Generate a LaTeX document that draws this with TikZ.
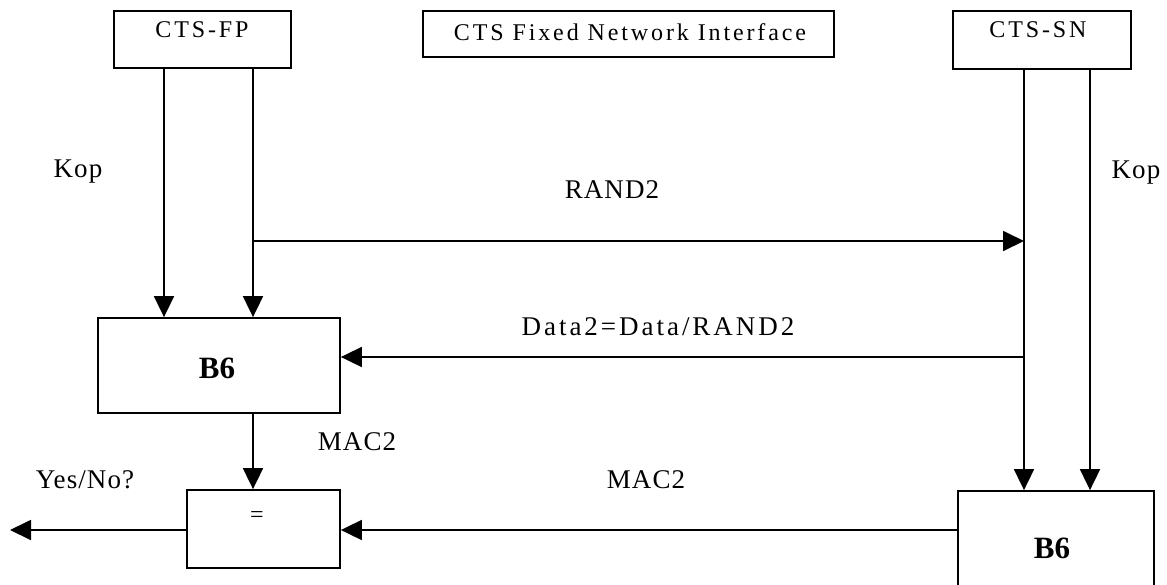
\documentclass[tikz,border=0pt]{standalone}
\usepackage{fontspec}
\setmainfont{Liberation Serif}
\newfontfamily\hdfont[LetterSpace=12]{Liberation Serif}
\newfontfamily\lbfont[LetterSpace=4]{Liberation Serif}
\newfontfamily\wdfont[LetterSpace=11]{Liberation Serif}
\usetikzlibrary{arrows.meta}
\begin{document}
\begin{tikzpicture}[x=1pt,y=-1pt,
  box/.style={draw=black,line width=1.8pt,rectangle,inner sep=0pt},
  hd/.style={inner sep=0pt,font=\hdfont\fontsize{24}{27}\selectfont},
  lb/.style={inner sep=0pt,font=\lbfont\fontsize{27}{30}\selectfont},
  wd/.style={inner sep=0pt,font=\wdfont\fontsize{27}{30}\selectfont},
  big/.style={inner sep=0pt,font=\fontsize{31}{34}\selectfont\bfseries},
  arr/.style={draw=black,line width=1.8pt,-{Triangle[length=21pt,width=20pt]}}]
\clip (0,0) rectangle (1167,584);
\fill[white] (0,0) rectangle (1167,584);
% boxes
\node[box,minimum width=177pt,minimum height=57pt] (fp) at (202.5,39.5) {};
\node[hd] (fpt) at (202,30) {CTS-FP};
\node[box,minimum width=411pt,minimum height=46pt] (fni) at (628.5,34) {};
\node[hd] (fnit) at (630,32) {CTS Fixed Network Interface};
\node[box,minimum width=178pt,minimum height=58pt] (sn) at (1042,40) {};
\node[hd] (snt) at (1038,30) {CTS-SN};
\node[box,minimum width=242pt,minimum height=95pt] (b6l) at (219,365.5) {};
\node[big] (b6lt) at (217,368) {B6};
\node[box,minimum width=153pt,minimum height=78pt] (eq) at (263.5,529) {};
\node[hd] (eqt) at (257,517) {=};
\node[box,minimum width=196pt,minimum height=120pt] (b6r) at (1056,551) {};
\node[big] (b6rt) at (1052,548) {B6};
% guide coordinates
\coordinate (cA) at (164,0);
\coordinate (cB) at (253,0);
\coordinate (cC) at (1024,0);
\coordinate (cD) at (1090,0);
\coordinate (rR) at (0,241);
\coordinate (rD) at (0,357);
\coordinate (rM) at (0,530);
\coordinate (out) at (10,530);
% connectors
\draw[arr] (fp.south -| cA) -- (b6l.north -| cA);
\draw[arr] (fp.south -| cB) -- (b6l.north -| cB);
\draw[arr] (cB |- rR) -- (cC |- rR);
\draw[arr] (cC |- rD) -- (b6l.east |- rD);
\draw[arr] (sn.south -| cC) -- (b6r.north -| cC);
\draw[arr] (sn.south -| cD) -- (b6r.north -| cD);
\draw[arr] (b6l.south -| cB) -- (eq.north -| cB);
\draw[arr] (b6r.west |- rM) -- (eq.east |- rM);
\draw[arr] (eq.west |- rM) -- (out);
% labels
\node[lb] (kop1) at (78,172) {Kop};
\node[lb] (kop2) at (1136,173) {Kop};
\node[lb] (rand) at (612,190) {RAND2};
\node[wd] (data) at (658,327) {Data2=Data/RAND2};
\node[lb] (mac1) at (357,442) {MAC2};
\node[lb] (mac2) at (646,480) {MAC2};
\node[lb] (yn) at (85,480) {Yes/No?};
\end{tikzpicture}
\end{document}
